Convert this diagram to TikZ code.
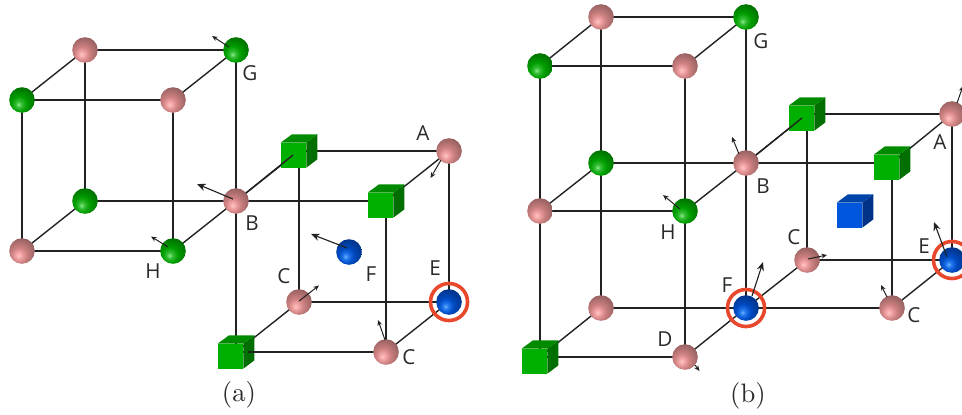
\documentclass[tikz,border=0pt]{standalone}
\usepackage{fontspec}
\usetikzlibrary{arrows.meta,backgrounds}
\newfontfamily\labfont{Open Sans}
\pgfdeclareradialshading{pinkball}{\pgfpoint{-7bp}{-9bp}}{
 rgb(0bp)=(1,.78,.78); rgb(6bp)=(.95,.64,.64); rgb(15bp)=(.80,.50,.50); rgb(26bp)=(.66,.42,.42); rgb(38bp)=(.52,.33,.33); rgb(52bp)=(.40,.25,.25); rgb(100bp)=(.40,.25,.25)}
\pgfdeclareradialshading{greenball}{\pgfpoint{-7bp}{-9bp}}{
 rgb(0bp)=(.55,.92,.55); rgb(6bp)=(.20,.74,.20); rgb(15bp)=(0,.62,0); rgb(28bp)=(0,.48,0); rgb(42bp)=(0,.36,0); rgb(56bp)=(0,.26,0); rgb(100bp)=(0,.26,0)}
\pgfdeclareradialshading{blueball}{\pgfpoint{-7bp}{-9bp}}{
 rgb(0bp)=(.40,.70,1); rgb(6bp)=(.12,.45,.92); rgb(15bp)=(0,.29,.76); rgb(28bp)=(0,.22,.58); rgb(42bp)=(0,.16,.43); rgb(56bp)=(0,.11,.32); rgb(100bp)=(0,.11,.32)}
\definecolor{bondc}{HTML}{222222}
\definecolor{ringc}{HTML}{E8482C}
\definecolor{labc}{HTML}{2A2A2A}
\definecolor{gfront}{HTML}{00B000}
\definecolor{gside}{HTML}{006E00}
\definecolor{gtop}{HTML}{008A00}
\definecolor{bfront}{HTML}{0055DD}
\definecolor{bside}{HTML}{003388}
\definecolor{btop}{HTML}{0044AA}
\tikzset{
 x=.75pt,y=-.75pt,
 ball/.style={circle,inner sep=0pt,outer sep=0pt,minimum size=19.2pt,shade,shading=#1},
 pinkatom/.style={ball=pinkball},
 greenatom/.style={ball=greenball},
 blueatom/.style={ball=blueball},
 cubebox/.style={rectangle,inner sep=0pt,outer sep=0pt,minimum width=27.5pt,minimum height=25pt},
 bond/.style={draw=bondc,line width=1.05pt},
 spinsmall/.style={draw=bondc,line width=.75pt,-{Stealth[length=4.2pt,width=3.6pt]}},
 spinbig/.style={draw=bondc,line width=.85pt,-{Stealth[length=6.5pt,width=5.4pt]}},
 ringmark/.style={circle,draw=ringc,line width=2.7pt,inner sep=0pt,minimum size=27.8pt},
 lab/.style={text=labc,font=\labfont\fontsize{15.5}{17}\selectfont,inner sep=0pt},
 subcap/.style={text=labc,scale=2,inner sep=0pt},
}
% a named cube: its node gives the name, three faces are filled in its box
\newcommand\cubeat[5]{%
 \node[cubebox] (#1) at #2 {};
 \begin{scope}[shift={(#1.north west)}]
  \fill[#3] (0,8.3) rectangle (25.7,33.3);
  \fill[#4] (25.7,8.3) -- (36.7,0) -- (36.7,25) -- (25.7,33.3) -- cycle;
  \fill[#5] (0,8.3) -- (11.3,0) -- (36.7,0) -- (25.7,8.3) -- cycle;
 \end{scope}}
\newcommand\spinvec[4]{\coordinate (#1s) at #2;\coordinate (#1e) at #3;\draw[#4] (#1s) -- (#1e);}
\begin{document}
\begin{tikzpicture}
\useasboundingbox (0,0) rectangle (962,414);
% ---------- panel (a)
\node[pinkatom]  (a1) at (85,50) {};
\node[greenatom] (a2) at (236,50) {};
\node[greenatom] (a3) at (22,100) {};
\node[pinkatom]  (a4) at (173,100) {};
\node[greenatom] (a5) at (85,201) {};
\node[pinkatom]  (a6) at (236,201) {};
\node[pinkatom]  (a7) at (22,251) {};
\node[greenatom] (a8) at (173,251) {};
\cubeat{a9}{(299,151)}{gfront}{gside}{gtop}
\node[pinkatom]  (a10) at (449,151) {};
\cubeat{a11}{(386,201)}{gfront}{gside}{gtop}
\node[pinkatom]  (a12) at (299,302) {};
\node[blueatom]  (a13) at (449,302) {};
\cubeat{a14}{(236,352)}{gfront}{gside}{gtop}
\node[pinkatom]  (a15) at (386,352) {};
\node[blueatom]  (a16) at (349,252) {};
\node[ringmark] (a17) at (449,302) {};
% ---------- panel (b)
\node[pinkatom]  (b1) at (601,17) {};
\node[greenatom] (b2) at (746,17) {};
\node[greenatom] (b3) at (540,66) {};
\node[pinkatom]  (b4) at (685,66) {};
\node[greenatom] (b5) at (601,163) {};
\node[pinkatom]  (b6) at (746,163) {};
\node[pinkatom]  (b7) at (540,211) {};
\node[greenatom] (b8) at (685,211) {};
\node[pinkatom]  (b9) at (601,308) {};
\node[blueatom]  (b10) at (746,308) {};
\cubeat{b11}{(540,357)}{gfront}{gside}{gtop}
\node[pinkatom]  (b12) at (685,357) {};
\cubeat{b13}{(807,114)}{gfront}{gside}{gtop}
\node[pinkatom]  (b14) at (952,114) {};
\cubeat{b15}{(892,163)}{gfront}{gside}{gtop}
\node[pinkatom]  (b16) at (807,260) {};
\node[blueatom]  (b17) at (952,260) {};
\node[pinkatom]  (b18) at (892,308) {};
\cubeat{b19}{(855,211)}{bfront}{bside}{btop}
\node[ringmark] (b20) at (746,308) {};
\node[ringmark] (b21) at (952,260) {};
% ---------- bonds behind the atoms
\begin{pgfonlayer}{background}
\foreach \p/\q in {a1/a2,a1/a3,a2/a4,a3/a4,a1/a5,a3/a7,a4/a8,a2/a6,a5/a6,a5/a7,a7/a8,a6/a8,
  a6/a9,a9/a10,a6/a11,a10/a11,a9/a12,a10/a13,a11/a15,a12/a13,a12/a14,a13/a15,a6/a14,a14/a15,
  b1/b2,b1/b3,b2/b4,b3/b4,b1/b5,b3/b7,b4/b8,b2/b6,b5/b6,b5/b7,b7/b8,b6/b8,
  b5/b9,b7/b11,b8/b12,b6/b10,b9/b10,b9/b11,b11/b12,b10/b12,
  b6/b13,b13/b14,b6/b15,b14/b15,b13/b16,b14/b17,b15/b18,b16/b17,b16/b10,b17/b18,b10/b18}
 {\draw[bond] (\p.center) -- (\q.center);}
\end{pgfonlayer}
% ---------- bonds that run over the front of a cube
\coordinate (ka) at (293,155);
\draw[bond] (a6) -- (ka);
\coordinate (kb) at (248,352);
\draw[bond] (a15) -- (kb);
\coordinate (kc) at (802,118);
\draw[bond] (b6) -- (kc);
% ---------- spin arrows, panel (a)
\spinvec{sa1}{(229,47)}{(212,36)}{spinsmall}
\spinvec{sa2}{(233,199)}{(197,184)}{spinbig}
\spinvec{sa3}{(168,247)}{(151,236.5)}{spinsmall}
\spinvec{sa4}{(441,160)}{(430.5,178)}{spinsmall}
\spinvec{sa5}{(347,248)}{(311,234)}{spinbig}
\spinvec{sa6}{(299,301)}{(319,285.5)}{spinsmall}
\spinvec{sa7}{(385,340)}{(378,320)}{spinsmall}
% ---------- spin arrows, panel (b)
\spinvec{sb1}{(739,154)}{(732,137)}{spinsmall}
\spinvec{sb2}{(680,209)}{(663,195)}{spinsmall}
\spinvec{sb3}{(752,296)}{(763,262)}{spinbig}
\spinvec{sb4}{(695,365)}{(699.5,371)}{spinsmall}
\spinvec{sb5}{(957,103)}{(963,86)}{spinsmall}
\spinvec{sb6}{(947,257)}{(934,222)}{spinbig}
\spinvec{sb7}{(808,259)}{(827,255)}{spinsmall}
\spinvec{sb8}{(887,297)}{(881,285)}{spinsmall}
% ---------- labels
\node[lab] (la1) at (423,133) {A};
\node[lab] (la2) at (250,73) {G};
\node[lab] (la3) at (252,223) {B};
\node[lab] (la4) at (153,271) {H};
\node[lab] (la5) at (284,276) {C};
\node[lab] (la6) at (371,274) {F};
\node[lab] (la7) at (435,268) {E};
\node[lab] (la8) at (409,357) {C};
\node[subcap] (la9) at (239,395) {(a)};
\node[lab] (lb1) at (761,41) {G};
\node[lab] (lb2) at (763,186) {B};
\node[lab] (lb3) at (668,232) {H};
\node[lab] (lb4) at (727,285) {F};
\node[lab] (lb5) at (665,339) {D};
\node[lab] (lb6) at (940,142) {A};
\node[lab] (lb7) at (794,237) {C};
\node[lab] (lb8) at (924,246) {E};
\node[lab] (lb9) at (914,315) {C};
\node[subcap] (lb10) at (748,396) {(b)};
\end{tikzpicture}
\end{document}
